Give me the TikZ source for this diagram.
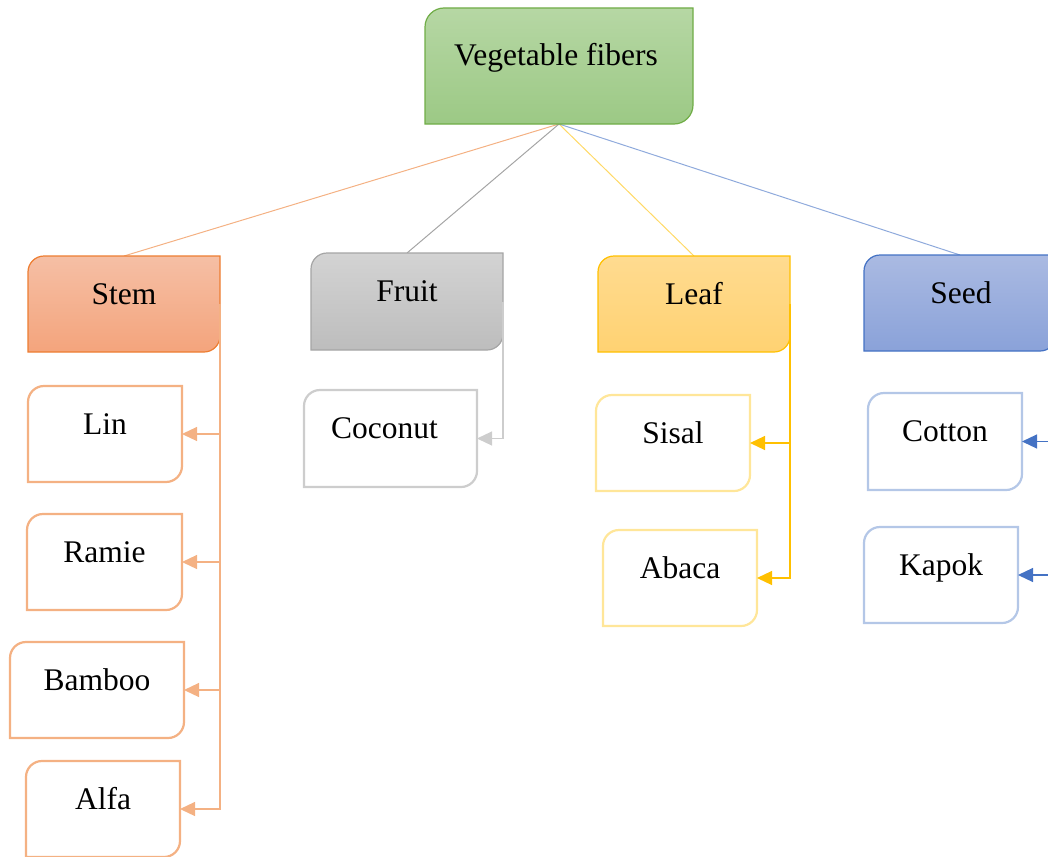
\documentclass[tikz,border=0pt]{standalone}
\usepackage{fontspec}
\setmainfont{Liberation Serif}
\usetikzlibrary{arrows.meta}

% category colours
\definecolor{grnB}{HTML}{70AD47}\definecolor{grnT}{HTML}{B6D7A4}\definecolor{grnD}{HTML}{9CC985}
\definecolor{orgB}{HTML}{ED7D31}\definecolor{orgT}{HTML}{F5BFA5}\definecolor{orgD}{HTML}{F4A47C}\definecolor{orgL}{HTML}{F4B183}
\definecolor{gryB}{HTML}{A5A5A5}\definecolor{gryT}{HTML}{D3D3D3}\definecolor{gryD}{HTML}{BDBDBD}\definecolor{gryL}{HTML}{CDCDCD}
\definecolor{yelB}{HTML}{FFC000}\definecolor{yelT}{HTML}{FFDB90}\definecolor{yelD}{HTML}{FFD272}\definecolor{yelL}{HTML}{FFE699}\definecolor{yelM}{HTML}{FFD966}
\definecolor{bluB}{HTML}{4472C4}\definecolor{bluT}{HTML}{AABAE2}\definecolor{bluD}{HTML}{8AA2D9}\definecolor{bluL}{HTML}{B4C7E7}\definecolor{bluM}{HTML}{8FAADC}

% rectangle with rounded top-left and bottom-right corners
\newcommand\diagcorners[3]{%
  \path[#3] (#1.south west) -- ([yshift=-#2pt]#1.north west)
    arc[start angle=180,end angle=90,radius=#2pt] -- (#1.north east)
    -- ([yshift=#2pt]#1.south east)
    arc[start angle=0,end angle=-90,radius=#2pt] -- cycle;}

\tikzset{
  frame/.style={shape=rectangle,inner sep=0pt,outer sep=0pt},
  lbl/.style={anchor=base,inner sep=0pt,font=\fontsize{31}{37}\selectfont},
  head/.style n args={3}{draw=#1,line width=1.2pt,top color=#2,bottom color=#3},
  leafbox/.style={draw=#1,line width=2.2pt,fill=white},
  tie/.style={draw=#1,line width=1pt},
  feed/.style={draw=#1,line width=1.2pt,-{Triangle[length=15pt,width=14pt]}},
}

\begin{document}
\begin{tikzpicture}[x=1pt,y=1pt]
\useasboundingbox (0,0) rectangle (1048,-856);
\clip (0,0) rectangle (1048,-856);

% frames: name / centre x / centre y / width / height
\foreach \n/\x/\y/\w/\h in {
  VF/559/-66/268/116,
  Stem/124/-304/192/96, Fruit/407/-301.5/192/97, Leaf/694/-304/192/96, Seed/960/-303/192/96,
  Lin/105/-434/154/96, Ramie/104.5/-562/155/96, Bamboo/97/-690/174/96, Alfa/103/-809/154/96,
  Coconut/390.5/-438.5/173/97,
  Sisal/673/-443/154/96, Abaca/680/-578/154/96,
  Cotton/945/-441.5/154/97, Kapok/941/-575/154/96}
  \node[frame,minimum width=\w pt,minimum height=\h pt] (\n) at (\x,\y) {};

% links from the root to the categories
\path[tie=orgL] (VF.south) -- (Stem.north);
\path[tie=gryB] (VF.south) -- (Fruit.north);
\path[tie=yelM] (VF.south) -- (Leaf.north);
\path[tie=bluM] (VF.south) -- (Seed.north);

% boxes
\diagcorners{VF}{19}{head={grnB}{grnT}{grnD}}
\diagcorners{Stem}{16}{head={orgB}{orgT}{orgD}}
\diagcorners{Fruit}{16}{head={gryB}{gryT}{gryD}}
\diagcorners{Leaf}{16}{head={yelB}{yelT}{yelD}}
\diagcorners{Seed}{16}{head={bluB}{bluT}{bluD}}
\foreach \n in {Lin,Ramie,Bamboo,Alfa}{\diagcorners{\n}{16}{leafbox=orgL}}
\diagcorners{Coconut}{16}{leafbox=gryL}
\foreach \n in {Sisal,Abaca}{\diagcorners{\n}{16}{leafbox=yelL}}
\foreach \n in {Cotton,Kapok}{\diagcorners{\n}{16}{leafbox=bluL}}

% elbow connectors to the fibres
\foreach \n in {Lin,Ramie,Bamboo,Alfa}{\path[feed=orgL] (Stem.east) |- (\n.east);}
\path[feed=gryL] (Fruit.east) |- (Coconut.east);
\foreach \n in {Sisal,Abaca}{\path[feed=yelB] (Leaf.east) |- (\n.east);}
\foreach \n in {Cotton,Kapok}{\path[feed=bluB] (Seed.east) |- (\n.east);}

% labels: frame / text / horizontal offset
\foreach \n/\t/\dx in {VF/Vegetable fibers/-3, Stem/Stem/0, Fruit/Fruit/0, Leaf/Leaf/0, Seed/Seed/1,
  Lin/Lin/0, Ramie/Ramie/0, Bamboo/Bamboo/0, Alfa/Alfa/0, Coconut/Coconut/-6,
  Sisal/Sisal/0, Abaca/Abaca/0, Cotton/Cotton/0, Kapok/Kapok/0}
  \node[lbl,font=\fontsize{31.5}{37}\selectfont] (\n-t) at ([xshift=\dx pt]\n.center) {\t};
\end{tikzpicture}
\end{document}
